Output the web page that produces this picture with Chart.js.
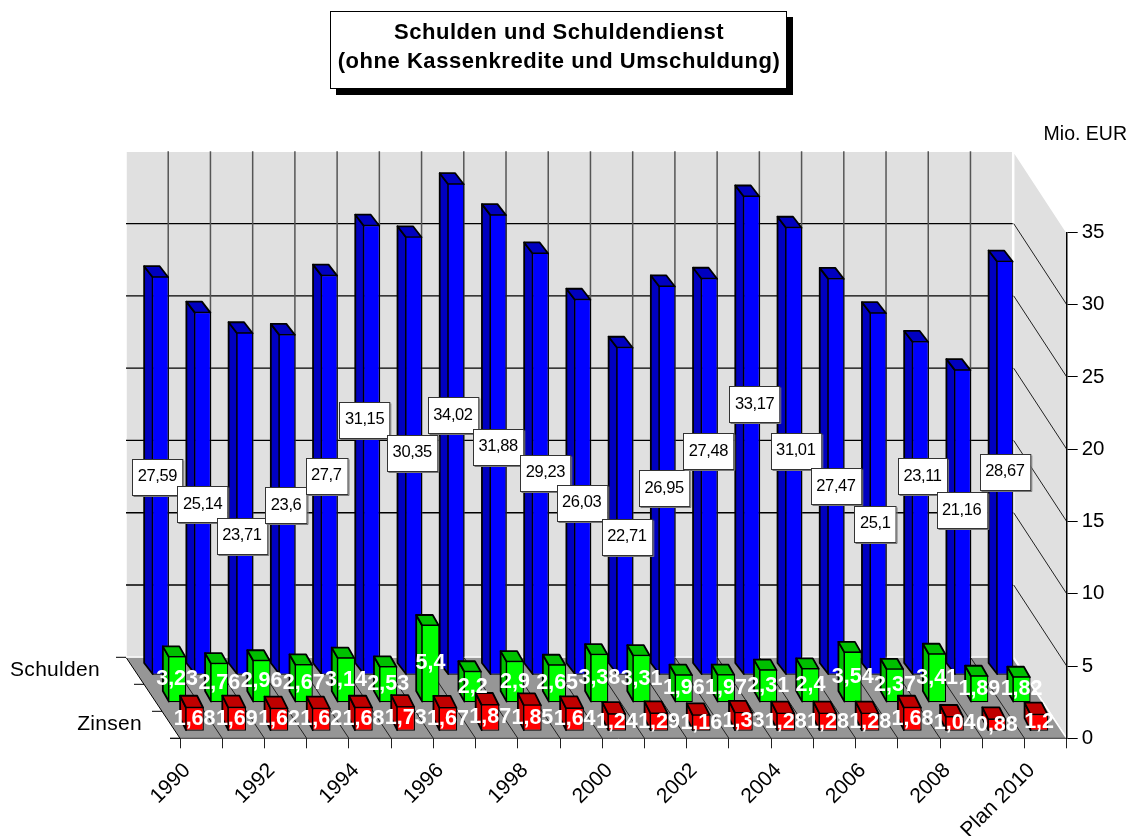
<!DOCTYPE html>
<html>
<head>
<meta charset="utf-8">
<style>html,body{margin:0;padding:0;background:#fff}canvas{display:block}</style>
<script src="https://cdn.jsdelivr.net/npm/chart.js@4"></script>
</head>
<body>
<canvas id="c" width="1133" height="836"></canvas>
<script>
const categories = ['1990','1991','1992','1993','1994','1995','1996','1997','1998','1999','2000','2001','2002','2003','2004','2005','2006','2007','2008','2009','Plan 2010'];
const schulden = [27.59,25.14,23.71,23.6,27.7,31.15,30.35,34.02,31.88,29.23,26.03,22.71,26.95,27.48,33.17,31.01,27.47,25.1,23.11,21.16,28.67];
const tilgung = [3.23,2.76,2.96,2.67,3.14,2.53,5.4,2.2,2.9,2.65,3.38,3.31,1.96,1.97,2.31,2.4,3.54,2.37,3.41,1.89,1.82];
const zinsen = [1.68,1.69,1.62,1.62,1.68,1.73,1.67,1.87,1.85,1.64,1.24,1.29,1.16,1.33,1.28,1.28,1.28,1.68,1.04,0.88,1.2];
const titleLines = ['Schulden und Schuldendienst','(ohne Kassenkredite und Umschuldung)'];
const unitLabel = 'Mio. EUR';
const depthLabels = ['Schulden','Zinsen'];

// label nudges (px) relative to the centre of the blue bar
const nudgeX = [-3,0,-3,-1,-3,-7,-1.5,-3,0,5,-1,2,-3,-1,3,2,0,-3,2,-1,0];
const nudgeY = [1,11,32,1,1,-30,-3,-14,2,9,16,26,8,-25,-31,0,10,30,-32,-12,4];

const FONT = '"Liberation Sans", Arial, sans-serif';
const WALL = {dx:-54, dy:-81};
const fmt = v => String(v).replace('.', ',');

function poly(ctx, pts){ ctx.beginPath(); pts.forEach((p,i)=> i?ctx.lineTo(p[0],p[1]):ctx.moveTo(p[0],p[1])); ctx.closePath(); }
function line(ctx,x1,y1,x2,y2,col,w){ ctx.strokeStyle=col; ctx.lineWidth=w; ctx.beginPath(); ctx.moveTo(x1,y1); ctx.lineTo(x2,y2); ctx.stroke(); }

const scene = {
  id:'scene',
  beforeDraw(chart){
    const {ctx, chartArea:a, scales:{x,y}} = chart;
    const D = WALL;
    ctx.save();
    // back wall
    ctx.fillStyle='#e0e0e0'; ctx.strokeStyle='#fff'; ctx.lineWidth=1.5;
    poly(ctx,[[a.left+D.dx,a.top+D.dy],[a.right+D.dx,a.top+D.dy],[a.right+D.dx,a.bottom+D.dy],[a.left+D.dx,a.bottom+D.dy]]);
    ctx.fill(); ctx.stroke();
    // right wall
    poly(ctx,[[a.right+D.dx+1,a.top+D.dy],[a.right,a.top],[a.right,a.bottom],[a.right+D.dx+1,a.bottom+D.dy]]);
    ctx.fill(); ctx.stroke();
    // floor
    ctx.fillStyle='#969696';
    poly(ctx,[[a.left+D.dx,a.bottom+D.dy],[a.right+D.dx,a.bottom+D.dy],[a.right,a.bottom],[a.left,a.bottom]]);
    ctx.fill();
    // value gridlines
    y.ticks.forEach(t=>{
      if(t.value===0||t.value===y.max) return;
      const py=y.getPixelForValue(t.value);
      line(ctx,a.left+D.dx,py+D.dy,a.right+D.dx,py+D.dy,'#000',1.3);
      line(ctx,a.right+D.dx+1,py+D.dy,a.right,py,'#222',1);
    });
    // category gridlines
    const n=categories.length, step=(a.right-a.left)/n;
    for(let i=1;i<n;i++){
      const px=a.left+i*step;
      line(ctx,px+D.dx,a.top+D.dy,px+D.dx,a.bottom+D.dy,'#555',1.5);
    }
    for(let i=0;i<n;i++){
      const px=a.left+i*step;
      line(ctx,px,a.bottom,px+D.dx,a.bottom+D.dy,i?'#222':'#000',1);
    }
    line(ctx,a.left+D.dx,a.bottom+D.dy,a.right+D.dx,a.bottom+D.dy,'#fff',1);
    line(ctx,a.right+D.dx,a.bottom+D.dy,a.right,a.bottom,'#fff',1.5);
    line(ctx,a.left-10,a.bottom,a.right,a.bottom,'#333',1);
    // depth axis ticks
    for(let k=0;k<=3;k++){
      const t=k/3, ex=a.left+D.dx*(1-t), ey=a.bottom+D.dy*(1-t);
      line(ctx,ex-10,ey,ex,ey,'#000',1);
    }
    // title box
    ctx.fillStyle='#000'; ctx.fillRect(336,17,457,78);
    ctx.fillStyle='#fff'; ctx.fillRect(330.5,11.5,456,77);
    ctx.strokeStyle='#000'; ctx.lineWidth=1; ctx.strokeRect(330.5,11.5,456,77);
    ctx.fillStyle='#000'; ctx.textAlign='center'; ctx.textBaseline='middle';
    ctx.font='bold 22px '+FONT; ctx.letterSpacing='0.55px';
    titleLines.forEach((s,i)=>ctx.fillText(s,559,33+i*29));
    ctx.letterSpacing='0px';
    // unit + depth labels
    ctx.font='19.5px '+FONT; ctx.textAlign='right';
    ctx.fillStyle='#000';
    ctx.fillText(unitLabel,1127,135);
    ctx.font='21px '+FONT; ctx.letterSpacing='0.3px';
    ctx.fillText(depthLabels[0],100,670);
    ctx.fillText(depthLabels[1],142,724);
    ctx.letterSpacing='0px';
    ctx.restore();
  },
  beforeDatasetDraw(chart,args){
    const ds=chart.data.datasets[args.index], ctx=chart.ctx;
    ctx.save();
    ctx.translate(ds.rowX,ds.rowY);
    ctx.lineWidth=1.8; ctx.lineJoin='round'; ctx.strokeStyle='#000'; ctx.fillStyle=ds.shade;
    args.meta.data.forEach(b=>{
      const p=b.getProps(['x','y','base','width'],true);
      const L=p.x-p.width/2+.75,R=p.x+p.width/2-.75,T=p.y+.75,B=p.base-.75,dx=ds.depthX,dy=ds.depthY;
      poly(ctx,[[L,B],[L,T],[L+dx,T+dy],[L+dx,B+dy]]); ctx.fill(); ctx.stroke();
      poly(ctx,[[L,T],[R,T],[R+dx,T+dy],[L+dx,T+dy]]); ctx.fill(); ctx.stroke();
    });
  },
  afterDatasetDraw(chart){ chart.ctx.restore(); },
  afterDatasetsDraw(chart){
    const ctx=chart.ctx;
    ctx.save();
    ctx.textAlign='center'; ctx.textBaseline='middle';
    // white labels on the two low rows
    ctx.font='bold 21.5px '+FONT; ctx.fillStyle='#fff';
    [1,2].forEach(k=>{
      const ds=chart.data.datasets[k];
      chart.getDatasetMeta(k).data.forEach((b,i)=>{
        const p=b.getProps(['x','y','base'],true);
        ctx.fillText(fmt(ds.data[i]),p.x+ds.rowX,(p.y+p.base)/2+ds.rowY);
      });
    });
    // boxed labels on the back row
    const ds=chart.data.datasets[0];
    ctx.font='16.5px '+FONT; ctx.letterSpacing='-0.4px';
    chart.getDatasetMeta(0).data.forEach((b,i)=>{
      const p=b.getProps(['x','y','base'],true);
      const cx=p.x+ds.rowX+nudgeX[i], cy=(p.y+p.base)/2+ds.rowY+nudgeY[i];
      const s=fmt(ds.data[i]), w=ctx.measureText(s).width+11, h=36;
      const l=Math.round(cx-w/2)+.5, t=Math.round(cy-h/2)+.5;
      ctx.fillStyle='#fff'; ctx.fillRect(l,t,w,h);
      ctx.strokeStyle='#333'; ctx.lineWidth=1; ctx.strokeRect(l,t,w,h);
      ctx.strokeStyle='#777';
      ctx.beginPath(); ctx.moveTo(l+1,t+h+1); ctx.lineTo(l+w+1,t+h+1); ctx.lineTo(l+w+1,t+1); ctx.stroke();
      ctx.fillStyle='#000'; ctx.fillText(s,cx,cy);
    });
    ctx.restore();
  }
};

const barBase = {grouped:false, clip:false, borderColor:'#000', borderWidth:1.3, borderSkipped:false, inflateAmount:0};
new Chart(document.getElementById('c'),{
  type:'bar',
  plugins:[scene],
  data:{
    labels:categories,
    datasets:[
      {...barBase,label:'Schulden',data:schulden,order:3,backgroundColor:'#0000ff',shade:'#0000c0',barThickness:17,rowX:-40.7,rowY:-63,depthX:-8.5,depthY:-11},
      {...barBase,label:'Tilgung',data:tilgung,order:2,backgroundColor:'#00ff00',shade:'#00c000',barThickness:18,rowX:-24,rowY:-35.5,depthX:-6,depthY:-10.5},
      {...barBase,label:'Zinsen',data:zinsen,order:1,backgroundColor:'#ff0000',shade:'#c00000',barThickness:18.5,rowX:-6.5,rowY:-7,depthX:-6,depthY:-12}
    ]
  },
  options:{
    responsive:false, animation:false,
    layout:{padding:{left:180,top:232.3,right:0,bottom:0}},
    plugins:{legend:{display:false},tooltip:{enabled:false},title:{display:false}},
    scales:{
      x:{
        type:'category',
        afterFit(s){ s.height=836-738.3; },
        grid:{display:true,offset:true,drawOnChartArea:false,drawTicks:true,tickLength:10,color:'#222',lineWidth:1},
        border:{display:false},
        ticks:{autoSkip:false,minRotation:45,maxRotation:45,color:'#000',font:{family:FONT,size:21},padding:10,labelOffset:-14,
          callback(v,i){ return i%2===0 ? this.getLabelForValue(v) : ''; }}
      },
      y:{
        type:'linear',position:'right',min:0,max:35,
        afterFit(s){ s.width=1133-1066.7; },
        grid:{display:true,drawOnChartArea:false,drawTicks:true,tickLength:11,color:'#000',lineWidth:1},
        border:{display:true,color:'#000',width:1.5},
        ticks:{stepSize:5,color:'#000',font:{family:FONT,size:20.5},padding:4}
      }
    }
  }
});
</script>
</body>
</html>
